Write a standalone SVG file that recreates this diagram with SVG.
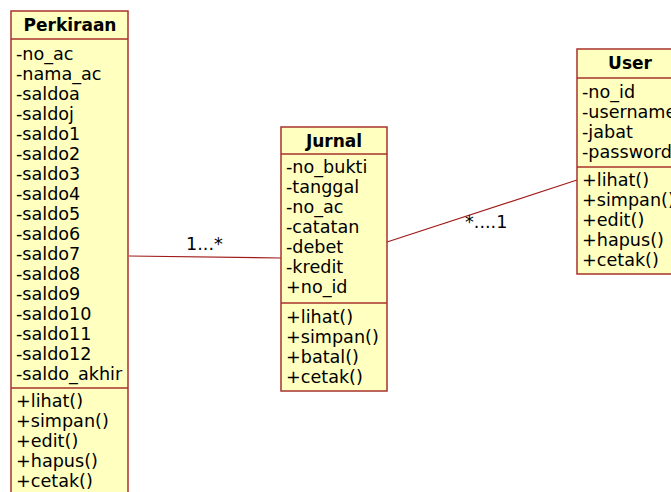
<svg xmlns="http://www.w3.org/2000/svg" width="671" height="492" viewBox="0 0 671 492">
<style>
.box{fill:#ffffc0;stroke:#a8322e;stroke-width:1.5}
.sep{stroke:#a8322e;stroke-width:1.5}
.t{font-family:"DejaVu Sans",Verdana,sans-serif;font-size:17.6px;fill:#000}
.h{font-family:"DejaVu Sans",Verdana,sans-serif;font-size:17px;font-weight:bold;fill:#000;text-anchor:middle}
.c{stroke:#a01a1a;stroke-width:1.2;fill:none}
.l{font-family:"DejaVu Sans",Verdana,sans-serif;font-size:17.6px;fill:#000}
</style>
<rect width="671" height="492" fill="#fff"/>
<g id="connectors">
<line class="c" x1="129" y1="256" x2="281" y2="258"/>
<line class="c" x1="387" y1="242" x2="577" y2="180"/>
<text class="l" x="186" y="250">1...*</text>
<text class="l" x="465" y="228">*....1</text>
</g>
<g id="Perkiraan">
<rect class="box" x="11" y="11" width="117" height="495"/>
<line class="sep" x1="11" y1="39" x2="128" y2="39"/>
<line class="sep" x1="11" y1="388" x2="128" y2="388"/>
<text class="h" x="70" y="31">Perkiraan</text>
<text class="t" x="16" y="60">-no_ac</text>
<text class="t" x="16" y="80">-nama_ac</text>
<text class="t" x="16" y="100">-saldoa</text>
<text class="t" x="16" y="120">-saldoj</text>
<text class="t" x="16" y="140">-saldo1</text>
<text class="t" x="16" y="160">-saldo2</text>
<text class="t" x="16" y="180">-saldo3</text>
<text class="t" x="16" y="200">-saldo4</text>
<text class="t" x="16" y="220">-saldo5</text>
<text class="t" x="16" y="240">-saldo6</text>
<text class="t" x="16" y="260">-saldo7</text>
<text class="t" x="16" y="280">-saldo8</text>
<text class="t" x="16" y="300">-saldo9</text>
<text class="t" x="16" y="320">-saldo10</text>
<text class="t" x="16" y="340">-saldo11</text>
<text class="t" x="16" y="360">-saldo12</text>
<text class="t" x="16" y="380">-saldo_akhir</text>
<text class="t" x="16" y="407">+lihat()</text>
<text class="t" x="16" y="427">+simpan()</text>
<text class="t" x="16" y="447">+edit()</text>
<text class="t" x="16" y="467">+hapus()</text>
<text class="t" x="16" y="487">+cetak()</text>
</g>
<g id="Jurnal">
<rect class="box" x="281" y="127" width="106" height="264"/>
<line class="sep" x1="281" y1="154" x2="387" y2="154"/>
<line class="sep" x1="281" y1="303" x2="387" y2="303"/>
<text class="h" x="334" y="147">Jurnal</text>
<text class="t" x="286" y="173">-no_bukti</text>
<text class="t" x="286" y="193">-tanggal</text>
<text class="t" x="286" y="213">-no_ac</text>
<text class="t" x="286" y="233">-catatan</text>
<text class="t" x="286" y="253">-debet</text>
<text class="t" x="286" y="273">-kredit</text>
<text class="t" x="286" y="293">+no_id</text>
<text class="t" x="286" y="323">+lihat()</text>
<text class="t" x="286" y="343">+simpan()</text>
<text class="t" x="286" y="363">+batal()</text>
<text class="t" x="286" y="383">+cetak()</text>
</g>
<g id="User">
<rect class="box" x="577" y="49" width="106" height="225"/>
<line class="sep" x1="577" y1="78" x2="683" y2="78"/>
<line class="sep" x1="577" y1="167" x2="683" y2="167"/>
<text class="h" x="630" y="69">User</text>
<text class="t" x="582" y="98">-no_id</text>
<text class="t" x="582" y="118">-username</text>
<text class="t" x="582" y="138">-jabat</text>
<text class="t" x="582" y="158">-password</text>
<text class="t" x="582" y="186">+lihat()</text>
<text class="t" x="582" y="206">+simpan()</text>
<text class="t" x="582" y="226">+edit()</text>
<text class="t" x="582" y="246">+hapus()</text>
<text class="t" x="582" y="266">+cetak()</text>
</g>
</svg>
